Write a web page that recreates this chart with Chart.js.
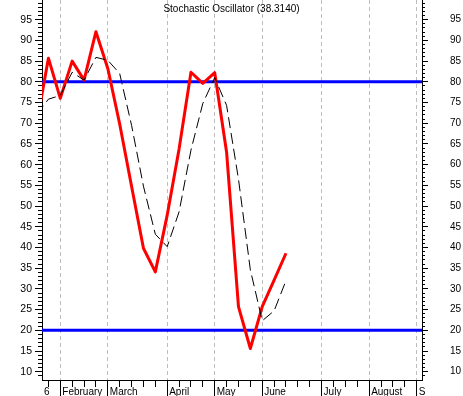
<!DOCTYPE html>
<html>
<head>
<meta charset="utf-8">
<script src="https://cdn.jsdelivr.net/npm/chart.js@4/dist/chart.umd.min.js"></script>
<style>
  html, body { margin: 0; padding: 0; background: #fff; }
  #wrap { position: relative; width: 463px; height: 396px; overflow: hidden; }
  #title { position: absolute; left: 0; top: 3px; width: 463px; text-align: center;
           font: 10px "Liberation Sans", Arial, sans-serif; line-height: 12px; color: #000; }
  canvas { display: block; }
</style>
</head>
<body>
<div id="wrap">
  <canvas id="c" width="463" height="396"></canvas>
  <div id="title">Stochastic Oscillator (38.3140)</div>
</div>
<script>
// ---- data (weekly index; week 0 = last week of January) ----
const weeks    = [-1, 0, 1, 2, 3, 4, 5, 6, 7, 8, 9, 10, 11, 12, 13, 14, 15, 16, 17, 18, 19, 20];
const percentK = [69.7, 85.7, 76.0, 85.0, 80.4, 92.1, 83.2, 69.8, 54.8, 39.8, 34.1, 47.8, 63.8, 82.3, 79.6, 82.2, 63.0, 25.7, 15.6, 25.7, 32.1, 38.6];
const percentD = [72.1, 75.8, 76.7, 82.3, 80.4, 85.9, 85.2, 82.0, 69.5, 54.8, 43.2, 40.2, 48.6, 63.5, 74.8, 81.0, 74.3, 56.5, 34.6, 22.3, 24.7, 32.0];
const upperLevel = 80;
const lowerLevel = 20;

// ---- axis ticks / labels ----
const xMin = -0.54, xMax = 31.45;
const yMin = 8.0, yMax = 99.75;
const weekTicks   = [0,1,2,3,4,5,6,7,8,9,10,11,12,13,14,15,16,17,18,19,20,21,22,23,24,25,26,27,28,29,30,31];
const monthTicks  = [1, 5, 10, 14, 18, 23, 27, 31];
const monthLabels = ['February', 'March', 'April', 'May', 'June', 'July', 'August', 'S'];
const yearLabel   = '6';
const yMajorTicks = [10,15,20,25,30,35,40,45,50,55,60,65,70,75,80,85,90,95];
const yMinorTicks = [];
for (let v = 9; v <= 99; v++) yMinorTicks.push(v);

const FONT = '"Liberation Sans", Arial, sans-serif';

const setTicks = (vals) => (scale) => { scale.ticks = vals.map(v => ({ value: v })); };
const fitW = (w) => (scale) => { scale.width = w; scale.paddingTop = 0; scale.paddingBottom = 0; scale.paddingLeft = 0; scale.paddingRight = 0; };
const fitH = (h) => (scale) => { scale.height = h; scale.paddingLeft = 0; scale.paddingRight = 0; scale.paddingTop = 0; scale.paddingBottom = 0; };

const xLabelTicks = [xMin].concat(weekTicks);
function xLabel(v) {
  if (v < 0) return yearLabel;
  const k = monthTicks.indexOf(v);
  return k >= 0 ? monthLabels[k] : '';
}

const pts = (ys) => weeks.map((w, i) => ({ x: w, y: ys[i] }));

new Chart(document.getElementById('c'), {
  type: 'line',
  data: {
    datasets: [
      { label: '%D', data: pts(percentD), borderColor: '#000000', borderWidth: 1,
        borderDash: [11, 5], pointRadius: 0, tension: 0, fill: false, clip: 0 },
      { label: '%K', data: pts(percentK), borderColor: '#ff0000', borderWidth: 3,
        borderJoinStyle: 'round', pointRadius: 0, tension: 0, fill: false, clip: 0 },
      { label: 'upper', data: [{ x: xMin, y: upperLevel }, { x: xMax, y: upperLevel }],
        borderColor: '#0000ff', borderWidth: 3, pointRadius: 0, fill: false, clip: 0 },
      { label: 'lower', data: [{ x: xMin, y: lowerLevel }, { x: xMax, y: lowerLevel }],
        borderColor: '#0000ff', borderWidth: 3, pointRadius: 0, fill: false, clip: 0 }
    ]
  },
  options: {
    responsive: false,
    devicePixelRatio: 1,
    animation: false,
    layout: { padding: 0 },
    plugins: { legend: { display: false }, tooltip: { enabled: false }, title: { display: false } },
    scales: {
      x: {
        type: 'linear', position: 'bottom', weight: 1, min: xMin, max: xMax, bounds: 'data',
        afterBuildTicks: setTicks(xLabelTicks), afterFit: fitH(16),
        grid: { drawOnChartArea: false, tickLength: 7, tickWidth: 1,
                tickColor: (c) => (c.tick && c.tick.value < 0) ? 'rgba(0,0,0,0)' : '#000000' },
        border: { display: true, color: '#000000', width: 1 },
        ticks: { autoSkip: false, maxRotation: 0, minRotation: 0, align: 'start', labelOffset: 2,
                 padding: -1, color: '#000000', font: { family: FONT, size: 10 },
                 callback: (v) => xLabel(v) }
      },
      xMonth: {
        type: 'linear', position: 'bottom', weight: 0, min: xMin, max: xMax, bounds: 'data',
        afterBuildTicks: setTicks(monthTicks), afterFit: fitH(0),
        grid: { drawOnChartArea: true, color: '#bdbdbd', lineWidth: 1, tickLength: 16,
                tickColor: '#000000', tickWidth: 1 },
        border: { display: false, dash: [4, 3] },
        ticks: { display: false }
      },
      y: {
        type: 'linear', position: 'left', weight: 1, min: yMin, max: yMax, bounds: 'data',
        afterBuildTicks: setTicks(yMajorTicks), afterFit: fitW(42),
        grid: { drawOnChartArea: false, tickLength: 7, tickColor: '#000000' },
        border: { display: true, color: '#000000', width: 1 },
        ticks: { autoSkip: false, padding: 3, color: '#000000', font: { family: FONT, size: 10.5 },
                 callback: (v) => String(v) }
      },
      yMinor: {
        type: 'linear', position: 'left', weight: 0, min: yMin, max: yMax, bounds: 'data',
        afterBuildTicks: setTicks(yMinorTicks), afterFit: fitW(0),
        grid: { drawOnChartArea: false, tickLength: 4, tickColor: '#000000' },
        border: { display: false },
        ticks: { display: false }
      },
      yRight: {
        type: 'linear', position: 'right', weight: 1, min: yMin, max: yMax, bounds: 'data',
        afterBuildTicks: setTicks(yMajorTicks), afterFit: fitW(41),
        grid: { drawOnChartArea: false, tickLength: 6, tickColor: '#000000' },
        border: { display: true, color: '#000000', width: 1 },
        ticks: { autoSkip: false, padding: 22, color: '#000000', font: { family: FONT, size: 10 },
                 callback: (v) => String(v) }
      },
      yRightMinor: {
        type: 'linear', position: 'right', weight: 0, min: yMin, max: yMax, bounds: 'data',
        afterBuildTicks: setTicks(yMinorTicks), afterFit: fitW(0),
        grid: { drawOnChartArea: false, tickLength: 3, tickColor: '#000000' },
        border: { display: false },
        ticks: { display: false }
      }
    }
  }
});
</script>
</body>
</html>
